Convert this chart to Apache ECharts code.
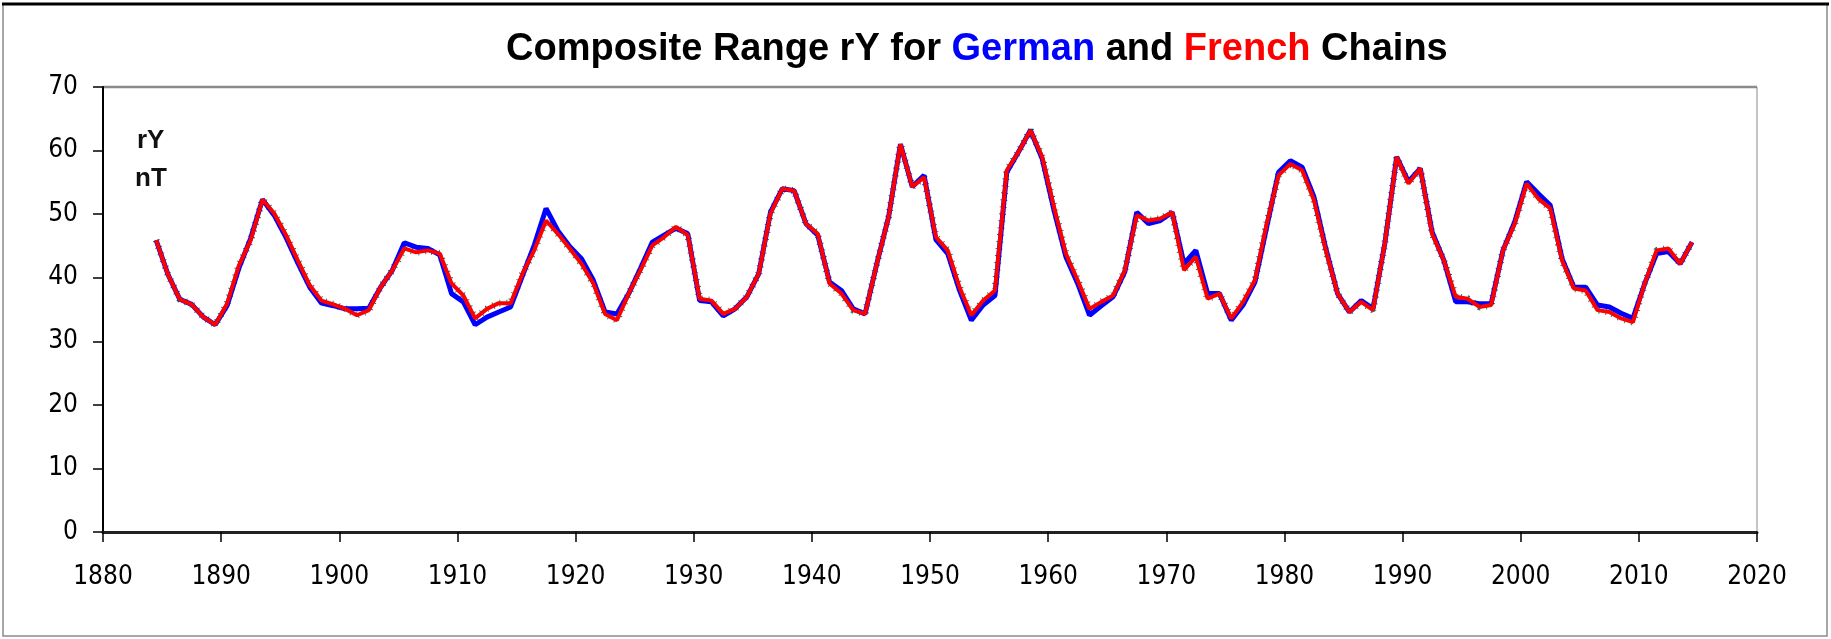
<!DOCTYPE html>
<html>
<head>
<meta charset="utf-8">
<script src="https://cdn.jsdelivr.net/npm/echarts@6/dist/echarts.min.js"></script>
<style>
html,body{margin:0;padding:0;background:#fff;}
#chart{width:1831px;height:639px;}
</style>
</head>
<body>
<div id="chart"></div>
<script>
// Years (plotted at mid-year)
var years = [];
for (var y = 1884; y <= 2014; y++) years.push(y);

var french = [
45.9,40.5,36.6,35.8,33.8,32.6,35.9,41.9,45.9,52.3,
50.1,46.7,42.7,38.8,36.4,35.8,35.1,34.1,34.9,38.5,
41.2,44.6,44.0,44.3,43.8,39.1,37.2,33.6,35.1,36.0,
36.0,40.6,44.3,49.0,46.9,44.6,42.2,39.1,34.3,33.3,
37.5,41.2,45.1,46.4,48.0,46.7,36.7,36.4,34.3,35.1,
37.0,40.6,50.1,54.0,53.7,48.5,46.9,39.1,37.5,34.9,
34.3,42.2,49.6,61.0,54.3,55.8,46.4,44.3,38.5,34.1,
36.4,38.0,56.9,59.8,63.2,59.0,51.1,43.8,39.6,35.1,
36.2,37.2,41.2,49.8,49.0,49.3,50.3,41.2,43.3,36.7,
37.5,33.6,36.2,39.6,48.5,56.1,57.9,56.9,52.2,44.3,
37.5,34.6,36.2,34.9,45.4,59.0,54.8,57.2,46.9,42.7,
37.0,36.7,35.4,35.7,44.3,48.5,54.8,52.4,50.9,42.7,
38.3,38.0,34.9,34.6,33.6,33.0,39.1,44.3,44.6,42.2,
45.6
];

var german = [
45.9,40.5,36.6,35.8,33.8,32.6,35.6,41.5,46.2,52.3,
49.8,46.3,42.3,38.5,36.0,35.6,35.1,35.1,35.2,38.5,
41.2,45.5,44.8,44.6,43.6,37.5,36.2,32.6,33.8,34.6,
35.4,40.3,45.1,50.9,47.4,44.9,43.0,39.6,34.6,34.3,
37.5,41.5,45.6,46.7,47.8,46.9,36.4,36.2,34.0,35.1,
37.0,40.6,50.3,54.0,53.7,48.5,46.7,39.3,38.0,35.1,
34.3,42.2,49.6,61.0,54.3,56.1,46.0,43.8,38.0,33.3,
35.7,37.2,56.6,59.8,63.2,58.7,50.6,43.3,39.1,34.1,
35.6,37.0,41.0,50.3,48.5,49.0,50.3,42.2,44.3,37.5,
37.5,33.3,35.7,39.3,48.0,56.6,58.4,57.4,52.7,44.6,
37.5,34.6,36.4,35.1,45.4,59.0,55.1,57.2,47.2,42.7,
36.2,36.2,35.9,35.9,44.3,48.8,55.1,53.2,51.4,43.0,
38.5,38.5,35.7,35.4,34.4,33.6,39.1,43.8,44.1,42.2,
45.6
];

var xTicks = [1880,1890,1900,1910,1920,1930,1940,1950,1960,1970,1980,1990,2000,2010,2020];
var yTicks = [0,10,20,30,40,50,60,70];

function pairs(vals){
  return years.map(function(yr,i){ return [yr + 0.5, vals[i]]; });
}

var FONT = "'Liberation Sans', Arial, sans-serif";
var NFONT = "'Liberation Sans Narrow', 'Arial Narrow', 'DejaVu Sans Condensed', sans-serif";
var chart = echarts.init(document.getElementById('chart'), null, {renderer:'canvas'});
chart.setOption({
  animation:false,
  backgroundColor:'#ffffff',
  grid:{left:103, right:74, top:87, bottom:107, show:true, borderColor:'#8a8a8a', borderWidth:1, backgroundColor:'transparent'},
  xAxis:{
    type:'value', min:xTicks[0], max:xTicks[xTicks.length-1], interval:10,
    axisLine:{show:true, onZero:false, lineStyle:{color:'#222', width:3}},
    axisTick:{show:true, inside:false, length:10, lineStyle:{color:'#000', width:1.5}},
    axisLabel:{margin:32, color:'#000', fontFamily:NFONT, fontSize:26, formatter:function(v){return String(v);}},
    splitLine:{show:false}
  },
  yAxis:{
    type:'value', min:yTicks[0], max:yTicks[yTicks.length-1], interval:10,
    axisLine:{show:true, onZero:false, lineStyle:{color:'#000', width:2}},
    axisTick:{show:true, inside:false, length:10, lineStyle:{color:'#000', width:1.5}},
    axisLabel:{margin:25, color:'#000', fontFamily:NFONT, fontSize:26},
    splitLine:{show:false}
  },
  series:[
    {type:'line', name:'dots', data:pairs(french), symbol:'none', z:1,
     lineStyle:{color:'#008878', width:7, type:[1,6], cap:'butt'}},
    {type:'line', name:'German', data:pairs(german), symbol:'none', z:2,
     lineStyle:{color:'#0000ff', width:5}},
    {type:'line', name:'French', data:pairs(french), symbol:'none', z:3,
     lineStyle:{color:'#ff0000', width:4}}
  ],
  graphic:[
    {type:'rect', shape:{x:3, y:4, width:1824, height:632}, style:{fill:'none', stroke:'#8a8a8a', lineWidth:1.5}, silent:true},
    {type:'line', shape:{x1:2, y1:4, x2:1829, y2:4}, style:{stroke:'#000', lineWidth:3}, silent:true},
    {type:'line', shape:{x1:103, y1:87, x2:1757, y2:87}, style:{stroke:'#8a8a8a', lineWidth:2.5}, silent:true},
    {type:'text', left:506, top:31, style:{
      text:'{k|Composite Range rY for }{b|German}{k| and }{r|French}{k| Chains}',
      font:'bold 38px ' + FONT,
      rich:{
        k:{fill:'#000', font:'bold 38px ' + FONT},
        b:{fill:'#0000ff', font:'bold 38px ' + FONT},
        r:{fill:'#ff0000', font:'bold 38px ' + FONT}
      }
    }},
    {type:'text', left:137, top:128, style:{text:'rY', font:'bold 26px ' + FONT, fill:'#111'}},
    {type:'text', left:135, top:166, style:{text:'nT', font:'bold 26px ' + FONT, fill:'#111'}}
  ]
});
</script>
</body>
</html>
